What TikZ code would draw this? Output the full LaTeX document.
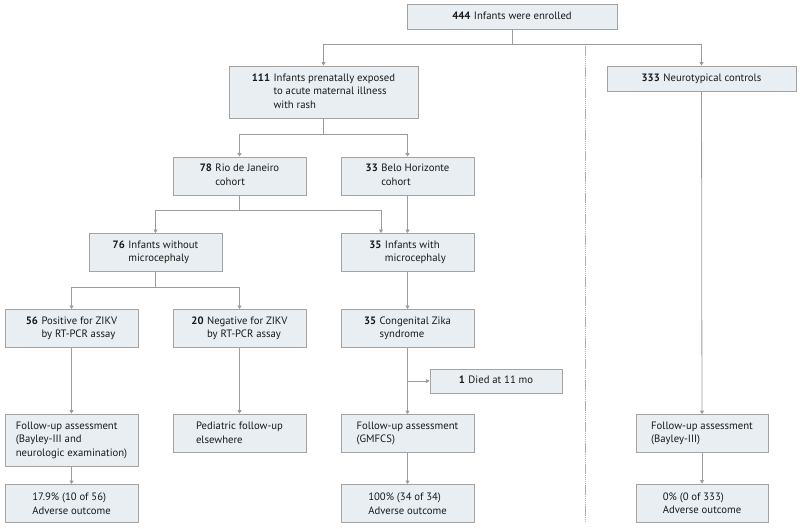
\documentclass[tikz,border=0pt]{standalone}
\usepackage{fontspec}
\setmainfont{PT Sans}
\usetikzlibrary{arrows.meta}

\definecolor{boxfill}{HTML}{E8EEF2}
\definecolor{boxline}{HTML}{A3A3A3}
\definecolor{linkgray}{HTML}{9C9C9C}
\definecolor{splitblue}{HTML}{6CC4F0}

% number in bold, text hanging beside it
\newcommand{\nlab}[2]{\begin{tabular}{@{}l@{\hspace{3.5pt}}l@{}}\textbf{#1}&\begin{tabular}[t]{@{}l@{}}#2\end{tabular}\end{tabular}}

\begin{document}
\begin{tikzpicture}[
  x=1pt, y=-1pt,
  box/.style={rectangle,draw=boxline,fill=boxfill,line width=0.8pt,inner sep=0pt,
    minimum width=133pt,minimum height=38pt,align=left,text=black!90,
    font=\fontsize{10.7}{13.5}\selectfont},
  arr/.style={draw=linkgray,line width=0.8pt,-{Triangle[width=4pt,length=3.5pt]}},
  lnk/.style={draw=linkgray,line width=0.8pt}
]
  \useasboundingbox (0,0) rectangle (800,529);

  \draw[splitblue,line width=1pt,dash pattern=on 1.5pt off 0.6pt] (585,44) -- (585,522);

  \node[box,minimum width=210pt,minimum height=25pt] (enrolled) at (512,16.5) {\nlab{444}{Infants were enrolled}};
  \node[box,minimum width=189pt,minimum height=52pt] (exposed) at (323.5,92) {\nlab{111}{Infants prenatally exposed\\to acute maternal illness\\with rash}};
  \node[box,minimum width=189pt,minimum height=25pt] (controls) at (701.5,78.5) {\nlab{333}{Neurotypical controls}};

  \node[box] (rio) at (239.5,176) {\nlab{78}{Rio de Janeiro\\cohort}};
  \node[box] (belo) at (407.5,176) {\nlab{33}{Belo Horizonte\\cohort}};

  \node[box] (nomicro) at (155.5,252.5) {\nlab{76}{Infants without\\microcephaly}};
  \node[box] (micro) at (407.5,252.5) {\nlab{35}{Infants with\\microcephaly}};

  \node[box] (pos) at (71.5,328.5) {\nlab{56}{Positive for ZIKV\\by RT-PCR assay}};
  \node[box] (neg) at (239.5,328.5) {\nlab{20}{Negative for ZIKV\\by RT-PCR assay}};
  \node[box] (czs) at (407.5,328.5) {\nlab{35}{Congenital Zika\\syndrome}};

  \node[box,minimum width=132pt,minimum height=24pt] (died) at (496,381) {\nlab{1}{Died at 11 mo}};

  \node[box,minimum height=52pt] (fupos) at (71.5,440) {Follow-up assessment\\(Bayley-III and\\neurologic examination)};
  \node[box] (fuped) at (239.5,433) {Pediatric follow-up\\elsewhere};
  \node[box] (fuczs) at (407.5,433.5) {Follow-up assessment\\(GMFCS)};
  \node[box,minimum width=132pt] (fuctl) at (702,433.5) {Follow-up assessment\\(Bayley-III)};

  \node[box] (outpos) at (71.5,503.5) {17.9\% (10 of 56)\\Adverse outcome};
  \node[box] (outczs) at (407.5,503.5) {100\% (34 of 34)\\Adverse outcome};
  \node[box,minimum width=132pt] (outctl) at (702,503) {0\% (0 of 333)\\Adverse outcome};

  % enrolment split
  \draw[arr] (enrolled.south) -- ++(0,15) -| (exposed.north);
  \draw[arr] (enrolled.south) -- ++(0,15) -| (controls.north);
  % cohorts
  \draw[arr] (exposed.south) -- ++(0,16) -| (rio.north);
  \draw[arr] (exposed.south) -- ++(0,16) -| (belo.north);
  \draw[arr] (rio.south) -- ++(0,15) -| (nomicro.north);
  \draw[arr] (rio.south) -- ++(0,15) -| ([xshift=-26.5pt]micro.north);
  \draw[arr] (belo) -- (micro);
  % testing
  \draw[arr] (nomicro.south) -- ++(0,15) -| (pos.north);
  \draw[arr] (nomicro.south) -- ++(0,15) -| (neg.north);
  \draw[arr] (micro) -- (czs);
  % follow-up
  \draw[arr] (pos) -- (fupos);
  \draw[arr] (neg) -- (fuped);
  \draw[arr] (czs) -- (fuczs);
  \draw[arr] (czs.south |- died.west) -- (died.west);
  \draw[arr] (controls) -- (fuctl);
  % outcomes
  \draw[arr] (fupos) -- (outpos);
  \draw[arr] (fuczs) -- (outczs);
  \draw[arr] (fuctl) -- (outctl);
\end{tikzpicture}
\end{document}
